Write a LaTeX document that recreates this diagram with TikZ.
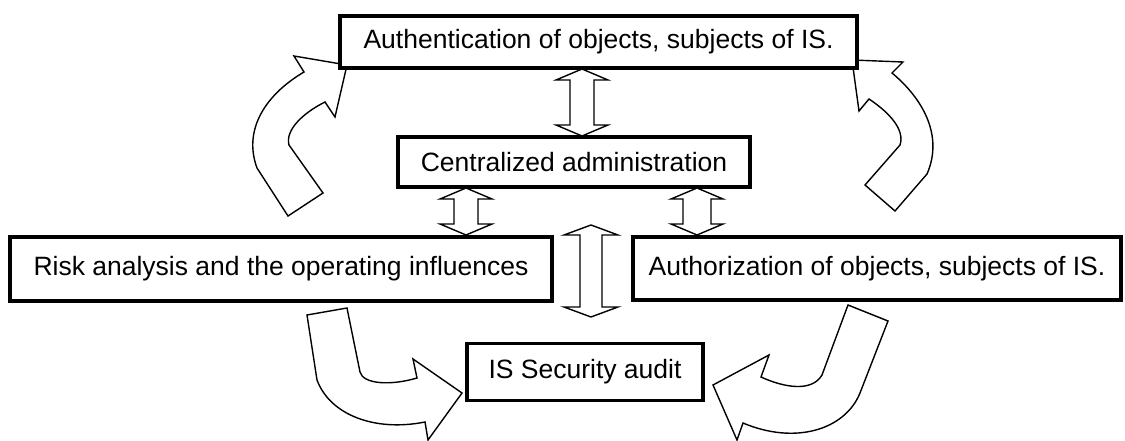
\documentclass[tikz,border=0pt]{standalone}
\usepackage{fontspec}
\setmainfont{Liberation Sans}
\begin{document}
\begin{tikzpicture}[x=1pt,y=-1pt,
  box/.style={draw, line width=3.5pt, fill=white, inner sep=0pt, line join=miter,
    font=\fontsize{26.5}{30}\selectfont},
  fatarrow/.style={draw, line width=1.4pt, fill=white, line join=miter}]
\useasboundingbox (0,0) rectangle (1125,441);
\newcommand\dblarr[6]{% x, ytop, ybot, shaft half, head half, head length
  \draw[fatarrow] (#1,#2) -- (#1+#5,#2+#6) -- (#1+#4,#2+#6) -- (#1+#4,#3-#6)
    -- (#1+#5,#3-#6) -- (#1,#3) -- (#1-#5,#3-#6) -- (#1-#4,#3-#6)
    -- (#1-#4,#2+#6) -- (#1-#5,#2+#6) -- cycle;}
% curved block arrows
\draw[fatarrow] (347,65) -- (294,56) -- (304,72)
  .. controls (265,95) and (243,130) .. (257,168) -- (288,216) -- (323,193)
  -- (289,145) .. controls (285,130) and (303,113) .. (325,102) -- (335,117) -- cycle;
\draw[fatarrow] (852,60) -- (903,62) -- (892,73)
  .. controls (922,98) and (944,135) .. (927,174) -- (895,211) -- (865,185)
  -- (900,145) .. controls (905,130) and (890,113) .. (869,99) -- (859,111) -- cycle;
\draw[fatarrow] (307,315) -- (347,308) -- (360,372)
  .. controls (363,384) and (390,386) .. (417,378) -- (413,359) -- (462,393)
  -- (428,440) -- (425,422) .. controls (375,432) and (330,415) .. (317,380) -- cycle;
\draw[fatarrow] (848,305) -- (888,321) -- (860,393)
  .. controls (845,430) and (795,445) .. (743,423) -- (737,440) -- (713,385)
  -- (769,355) -- (761,377) .. controls (785,388) and (812,392) .. (822,375) -- cycle;
% double arrows
\dblarr{582}{69}{136}{12}{26}{11}
\dblarr{466}{188}{235}{12}{26}{11}
\dblarr{697}{188}{235}{14}{26}{11}
\dblarr{591}{225}{317}{11}{27}{10}
% boxes
\node[box, minimum width=517pt, minimum height=52pt] (auth) at (598.5,42)
  {Authentication of objects, subjects of IS.};
\node[box, minimum width=352pt, minimum height=50pt] (central) at (574,162)
  {Centralized administration};
\node[box, minimum width=542pt, minimum height=64pt] (risk) at (281,269)
  {Risk analysis and the operating influences};
\node[box, minimum width=488pt, minimum height=63pt] (authz) at (877,268.5)
  {Authorization of objects, subjects of IS.};
\node[box, minimum width=236pt, minimum height=57pt] (audit) at (585,372)
  {IS Security audit};
\end{tikzpicture}
\end{document}
